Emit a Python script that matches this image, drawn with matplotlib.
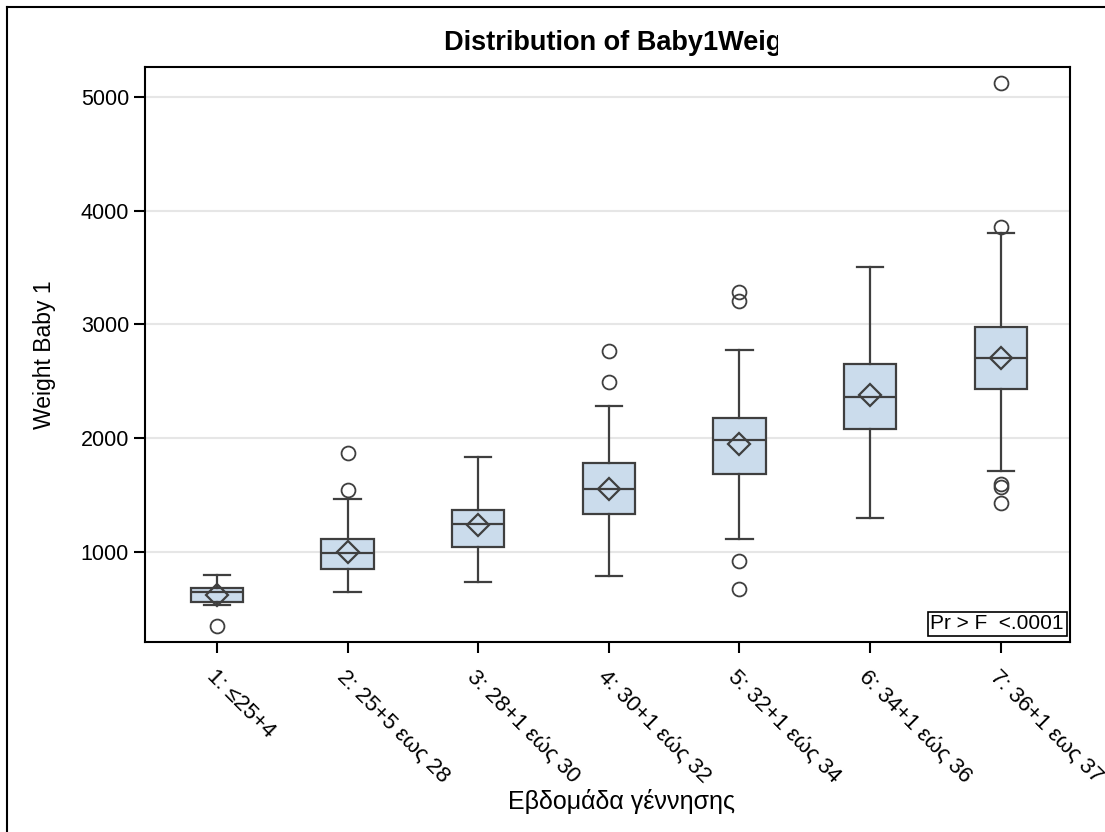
import matplotlib
matplotlib.use('Agg')
import matplotlib.pyplot as plt
from matplotlib.lines import Line2D
from matplotlib.patches import Rectangle

plt.rcParams['font.family'] = ['Liberation Sans', 'DejaVu Sans']

# κατηγορίες (εβδομάδα γέννησης)
labels = ['1: \u226425+4', '2: 25+5 εως 28', '3: 28+1 εώς 30', '4: 30+1 εώς 32',
          '5: 32+1 εώς 34', '6: 34+1 εώς 36', '7: 36+1 εως 37']
positions = [1, 2, 3, 4, 5, 6, 7]

# στατιστικά κουτιών, διαβασμένα από την εικόνα
whislo = [531, 648, 739, 789, 1111, 1302, 1712]
q1 = [560, 848, 1047, 1331, 1683, 2081, 2430]
med = [651, 991, 1249, 1551, 1982, 2365, 2705]
q3 = [680, 1114, 1369, 1780, 2181, 2653, 2981]
whishi = [798, 1463, 1835, 2281, 2773, 3503, 3804]
means = [619, 1000, 1237, 1554, 1950, 2380, 2705]
fliers = [[349], [1542, 1874], [], [2492, 2764],
          [672, 921, 3206, 3288], [], [1428, 1569, 1598, 3860, 5120]]

yticks = [1000, 2000, 3000, 4000, 5000]

stats = []
for i in range(len(labels)):
    stats.append(dict(whislo=whislo[i], q1=q1[i], med=med[i], q3=q3[i],
                      whishi=whishi[i], mean=means[i], fliers=fliers[i]))

edge = '#3f3f3f'
fill = '#cbdcec'

fig = plt.figure(figsize=(11.05, 8.32), dpi=100)
ax = fig.add_axes([145/1105, 1 - 642/832, (1070-145)/1105, (642-67)/832])

ax.bxp(stats, positions=positions, widths=0.40, capwidths=0.20,
       patch_artist=True, showmeans=True, manage_ticks=False,
       boxprops=dict(facecolor=fill, edgecolor=edge, linewidth=1.6),
       medianprops=dict(color=edge, linewidth=1.6),
       whiskerprops=dict(color=edge, linewidth=1.6),
       capprops=dict(color=edge, linewidth=1.6),
       meanprops=dict(marker='D', markerfacecolor='none', markeredgecolor=edge,
                      markersize=11, markeredgewidth=1.6),
       flierprops=dict(marker='o', markerfacecolor='none', markeredgecolor=edge,
                       markersize=10, markeredgewidth=1.3))

ax.set_xlim(0.45, 7.53)
ax.set_ylim(209, 5263)
ax.set_yticks(yticks)
ax.set_yticklabels([str(v) for v in yticks], fontsize=15.5)
ax.set_xticks(positions)
ax.set_xticklabels(labels, fontsize=16, rotation=-45, ha='left', va='top',
                   rotation_mode='anchor')
ax.tick_params(axis='both', length=8, width=1.5, color='black')
ax.tick_params(axis='x', pad=9)
ax.grid(axis='y', color='#e6e6e6', linewidth=1.5)
ax.set_axisbelow(True)
for s in ax.spines.values():
    s.set_linewidth(1.5)
    s.set_color('black')

ax.set_ylabel('Weight Baby 1', fontsize=16.5, labelpad=18)
ax.set_xlabel('Εβδομάδα γέννησης', fontsize=18, va='center')
ax.xaxis.set_label_coords((622-145)/925, -(801-642)/575)

ax.text(1 - 6/925, 9/575, 'Pr > F  <.0001', transform=ax.transAxes,
        ha='right', va='bottom', fontsize=15,
        bbox=dict(boxstyle='square,pad=0.12', facecolor='white', edgecolor='black',
                  linewidth=1.2))

# τίτλος κομμένος όπως στο πρωτότυπο
fig.text(444/1105, 1 - 43/832, 'Distribution of Baby1Weight', fontsize=19.5,
         fontweight='bold', ha='left', va='center')
fig.add_artist(Rectangle((778/1105, 1 - 65/832), 120/1105, 45/832,
                         transform=fig.transFigure, facecolor='white',
                         edgecolor='none', zorder=5))

# εξωτερικό πλαίσιο (πάνω και αριστερά)
fig.add_artist(Line2D([7/1105, 1], [1 - 7/832, 1 - 7/832], color='black', linewidth=1.5))
fig.add_artist(Line2D([7/1105, 7/1105], [0, 1 - 7/832], color='black', linewidth=1.5))

fig.savefig('out.png', dpi=100)
